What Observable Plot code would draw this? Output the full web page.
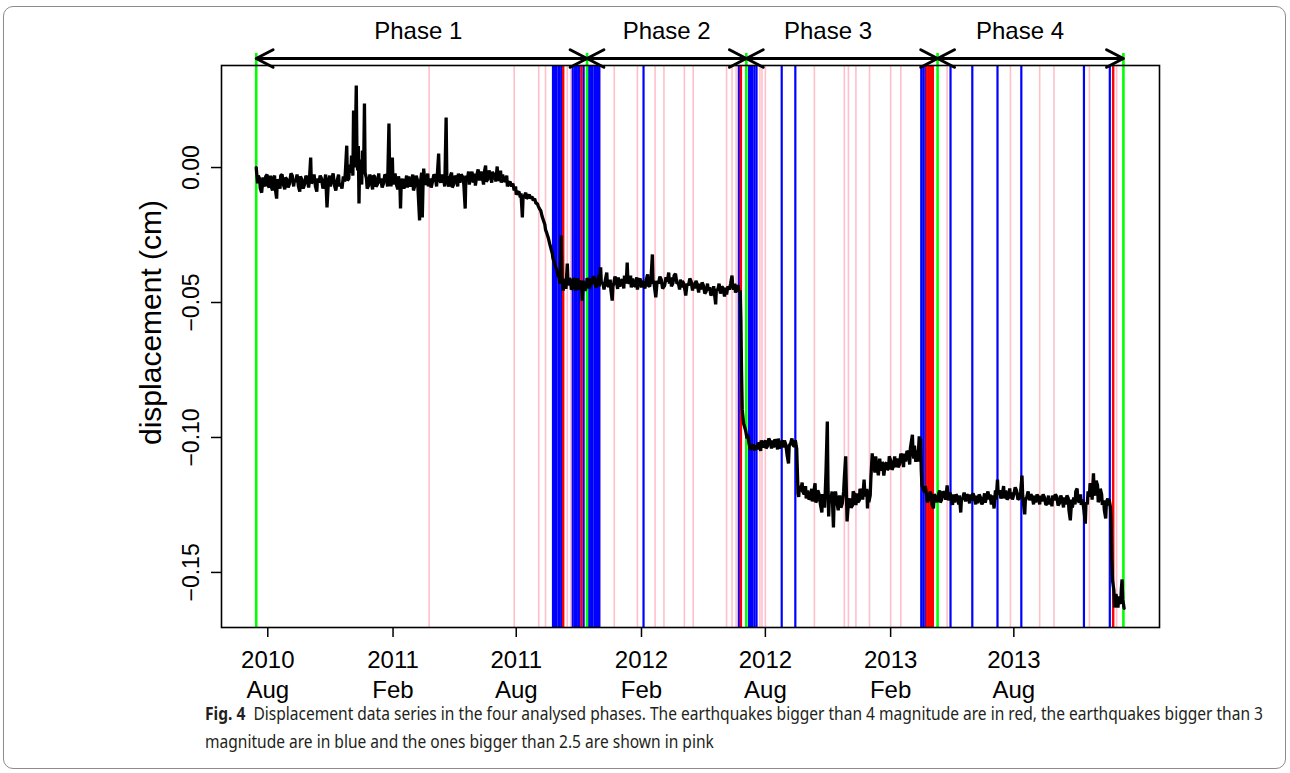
<!DOCTYPE html>
<html><head><meta charset="utf-8">
<script src="https://cdn.jsdelivr.net/npm/d3@7"></script>
<script src="https://cdn.jsdelivr.net/npm/@observablehq/plot@0.6"></script>
<style>
html,body{margin:0;padding:0;background:#fff}
body{width:1290px;height:773px;overflow:hidden;position:relative}
#box{position:absolute;left:3px;top:6px;width:1283px;height:763px;border:1.5px solid #8c8c8c;border-radius:10px;box-sizing:border-box}
#chart{position:absolute;left:0;top:0}
.cap{position:absolute;left:205px;font-family:"Noto Sans",sans-serif;font-size:17.5px;line-height:17px;color:#231f20;transform-origin:0 0;white-space:nowrap}
#cap1{top:705px}
#cap2{top:733px}
.cap b{font-weight:700}
</style></head><body>
<div id="box"></div>
<div id="chart"></div>
<div class="cap" id="cap1"><b>Fig. 4</b>&nbsp; Displacement data series in the four analysed phases. The earthquakes bigger than 4 magnitude are in red, the earthquakes bigger than 3</div>
<div class="cap" id="cap2">magnitude are in blue and the ones bigger than 2.5 are shown in pink</div>
<script>
// ---------------- data ----------------
// displacement series: [days since seriesStart, displacement in cm]
const seriesStart = "2010-07-15";
const displacementPhase1 = [[0,0],[2,-0.0059],[3,-0.003],[5,-0.0041],[6,-0.0078],[8,-0.0093],[10,-0.0037],[11,-0.0052],[13,-0.007],[14,-0.0033],[16,-0.0026],[17,-0.0063],[19,-0.0074],[20,-0.0048],[21,-0.003],[22,-0.007],[24,-0.0085],[25,-0.0041],[27,-0.003],[28,-0.0078],[30,-0.0115],[31,-0.0044],[33,-0.0056],[35,-0.0078],[36,-0.003],[38,-0.0026],[40,-0.0063],[42,-0.0081],[43,-0.0037],[45,-0.0044],[47,-0.0074],[49,-0.0059],[51,-0.0022],[53,-0.003],[55,-0.007],[56,-0.0048],[58,-0.0052],[60,-0.0026],[62,-0.007],[64,-0.0089],[65,-0.0033],[67,-0.0044],[69,-0.0078],[71,-0.0063],[73,-0.003],[75,-0.0041],[77,-0.0074],[78,-0.0052],[80,0.0037],[81,-0.0059],[83,-0.0048],[85,-0.0026],[87,-0.007],[89,-0.0089],[90,-0.0041],[92,-0.0056],[94,-0.003],[96,-0.0041],[98,-0.0078],[100,-0.0063],[102,-0.0026],[104,-0.0148],[106,-0.0052],[108,-0.003],[109,-0.007],[111,-0.0041],[113,-0.0022],[115,-0.0067],[117,-0.0085],[119,-0.0048],[121,-0.0026],[122,-0.007],[124,-0.0059],[126,-0.0078],[128,-0.0033],[130,-0.0052],[131,-0.0015],[133,0.0081],[134,-0.0048],[136,-0.0041],[137,0.0011],[139,-0.0019],[140,0.0044],[141,0.0026],[142,-0.003],[143,0.0211],[144,0],[145,0.0063],[146,0.015],[147,0.0304],[148,0.005],[149,-0.0011],[150,0.008],[151,-0.0133],[152,0.003],[153,-0.003],[155,-0.0063],[156,0.0063],[158,0.003],[159,0.0237],[160,-0.002],[162,-0.0041],[163,-0.0078],[165,-0.0067],[167,-0.0026],[169,-0.0052],[171,-0.0081],[172,-0.003],[174,-0.0033],[176,-0.007],[178,-0.0063],[180,-0.0022],[181,-0.0059],[183,-0.0041],[185,-0.0074],[187,-0.0059],[189,-0.0026],[191,-0.0033],[193,-0.007],[195,0.0163],[196,-0.003],[197,-0.0048],[198,-0.007],[200,0.0037],[201,-0.0063],[202,-0.0041],[204,-0.0022],[206,-0.0063],[208,-0.0081],[209,-0.0033],[211,-0.0056],[212,-0.0152],[213,-0.006],[215,-0.0041],[217,-0.0078],[219,-0.0059],[221,-0.003],[222,-0.0074],[224,-0.0033],[226,-0.007],[228,-0.0052],[230,-0.0026],[231,-0.0085],[233,-0.0067],[235,-0.003],[237,-0.0048],[238,-0.0096],[240,-0.0196],[241,-0.006],[243,-0.0019],[244,-0.0185],[245,-0.007],[246,-0.0004],[248,-0.0063],[250,-0.0056],[252,-0.0022],[253,-0.007],[255,-0.0041],[257,-0.0074],[259,-0.0052],[261,-0.0026],[263,-0.0033],[265,-0.007],[266,-0.003],[268,0.0052],[269,-0.0044],[271,-0.0056],[273,-0.0026],[275,-0.0041],[277,-0.007],[279,0.0185],[280,-0.003],[281,-0.0052],[283,-0.007],[285,-0.0033],[287,-0.0019],[288,-0.0074],[290,-0.0063],[292,-0.003],[294,-0.0041],[296,-0.007],[297,-0.0022],[299,-0.0056],[301,-0.0026],[303,-0.0033],[305,-0.0063],[307,-0.0152],[308,-0.003],[310,-0.0048],[312,-0.0015],[313,-0.0063],[315,-0.0037],[317,-0.0015],[319,-0.0056],[321,-0.0022],[322,-0.0067],[324,-0.003],[326,-0.0007],[328,-0.0048],[330,-0.0015],[332,-0.0033],[334,-0.0063],[335,-0.0019],[337,0.0007],[338,-0.0052],[340,-0.0044],[342,-0.0011],[344,-0.003],[346,-0.0056],[347,-0.0015],[349,-0.0044],[351,-0.0019],[352,-0.0052],[354,0.0004],[355,-0.0048],[357,-0.0041],[359,-0.0011],[360,-0.0056],[362,-0.0026],[364,-0.0052],[366,-0.0048],[368,-0.003],[369,-0.007],[371,-0.0059],[373,-0.0052],[375,-0.007],[377,-0.0059],[379,-0.0085],[381,-0.007],[382,-0.01],[384,-0.0093],[386,-0.0089],[388,-0.0111],[389,-0.0096],[391,-0.0185],[392,-0.011],[394,-0.0104],[396,-0.0093],[397,-0.0115],[399,-0.0111],[401,-0.01],[403,-0.0115],[405,-0.0107],[407,-0.0122],[409,-0.0115],[411,-0.0133],[413,-0.0133],[414,-0.0141],[416,-0.0152],[418,-0.016],[420,-0.0181],[422,-0.0196],[424,-0.0211],[425,-0.023],[427,-0.0244],[429,-0.026],[431,-0.0281],[433,-0.03],[435,-0.0319],[436,-0.0337],[438,-0.0352],[440,-0.037],[442,-0.0381],[443,-0.04],[445,-0.0407],[446,-0.043],[447,-0.0419],[448,-0.0252],[449,-0.04],[450,-0.0433],[451,-0.0456],[452,-0.042],[454,-0.0415],[455,-0.045],[457,-0.0356],[458,-0.042],[459,-0.0437],[460,-0.041],[462,-0.0422],[463,-0.0452],[465,-0.0444],[466,-0.0411],[468,-0.0415],[469,-0.0456],[471,-0.0433],[472,-0.041],[473,-0.0452],[475,-0.043],[476,-0.0419],[478,-0.044],[479,-0.0493],[480,-0.042],[481,-0.0426],[483,-0.0456],[485,-0.0444]];
const displacementPhase2 = [[486,-0.041],[488,-0.0419],[490,-0.0448],[491,-0.0411],[493,-0.0433],[495,-0.0404],[497,-0.0411],[499,-0.0444],[501,-0.0437],[503,-0.04],[504,-0.044],[506,-0.037],[507,-0.043],[509,-0.0426],[511,-0.0452],[513,-0.0415],[515,-0.0389],[516,-0.0437],[518,-0.0441],[520,-0.0415],[521,-0.0452],[523,-0.0493],[524,-0.044],[525,-0.0433],[527,-0.0404],[529,-0.0419],[531,-0.045],[532,-0.0407],[534,-0.0441],[536,-0.042],[538,-0.0415],[540,-0.0448],[541,-0.04],[543,-0.043],[544,-0.041],[545,-0.0352],[546,-0.042],[548,-0.043],[550,-0.04],[551,-0.0444],[553,-0.0411],[555,-0.044],[557,-0.0437],[559,-0.0407],[560,-0.0452],[562,-0.0422],[564,-0.0411],[566,-0.0444],[567,-0.042],[569,-0.043],[571,-0.0448],[573,-0.0415],[575,-0.0396],[576,-0.0437],[578,-0.0441],[580,-0.0411],[582,-0.0322],[583,-0.043],[584,-0.0419],[585,-0.044],[587,-0.0481],[589,-0.042],[591,-0.043],[593,-0.0404],[595,-0.0415],[597,-0.0448],[600,-0.0437],[602,-0.0407],[604,-0.0422],[606,-0.0389],[607,-0.043],[609,-0.0407],[610,-0.044],[612,-0.043],[614,-0.04],[616,-0.0393],[618,-0.043],[620,-0.0426],[622,-0.0452],[623,-0.0415],[625,-0.0444],[626,-0.042],[628,-0.043],[630,-0.0456],[631,-0.0474],[633,-0.043],[635,-0.0437],[637,-0.0411],[639,-0.0422],[641,-0.0456],[642,-0.0426],[644,-0.0448],[646,-0.042],[648,-0.0433],[650,-0.0463],[651,-0.043],[653,-0.0452],[655,-0.0426],[657,-0.0437],[659,-0.0467],[661,-0.0459],[663,-0.043],[664,-0.0456],[666,-0.0444],[668,-0.0474],[670,-0.0463],[672,-0.044],[675,-0.0507],[676,-0.045],[678,-0.0456],[680,-0.043],[682,-0.0467],[684,-0.0441],[686,-0.0448],[688,-0.0478],[689,-0.0445],[691,-0.047],[693,-0.044],[695,-0.0452],[697,-0.043],[699,-0.04],[700,-0.044],[701,-0.0452],[703,-0.043],[704,-0.0463],[706,-0.0445],[708,-0.0437],[709,-0.046],[711,-0.0456],[712,-0.0563],[713,-0.0756],[714,-0.0896],[716,-0.0948],[719,-0.0974]];
const displacementPhase3 = [[721,-0.1004],[722,-0.099],[724,-0.1022],[726,-0.1045],[728,-0.1037],[730,-0.1026],[732,-0.1048],[734,-0.103],[736,-0.1044],[737,-0.102],[739,-0.1026],[741,-0.105],[742,-0.1011],[744,-0.1037],[746,-0.102],[748,-0.1011],[749,-0.104],[751,-0.1033],[753,-0.1004],[755,-0.1015],[757,-0.1041],[758,-0.1011],[760,-0.1037],[762,-0.1007],[764,-0.1019],[766,-0.1044],[767,-0.1004],[769,-0.1041],[771,-0.1022],[773,-0.1011],[775,-0.1037],[776,-0.1011],[778,-0.1026],[780,-0.1067],[782,-0.1096],[783,-0.103],[785,-0.1022],[787,-0.1004],[789,-0.103],[791,-0.1033],[792,-0.101],[794,-0.1041],[796,-0.1207],[797,-0.122],[798,-0.1178],[800,-0.12],[802,-0.1167],[803,-0.12],[805,-0.1211],[807,-0.118],[808,-0.1226],[810,-0.1196],[812,-0.123],[814,-0.1222],[816,-0.119],[817,-0.1237],[819,-0.1204],[821,-0.117],[822,-0.1241],[824,-0.123],[825,-0.1196],[827,-0.1211],[829,-0.125],[831,-0.1278],[832,-0.121],[833,-0.1222],[835,-0.126],[836,-0.12],[837,-0.113],[839,-0.0941],[840,-0.118],[841,-0.1293],[842,-0.122],[844,-0.1233],[846,-0.12],[848,-0.1333],[849,-0.123],[850,-0.1252],[851,-0.12],[853,-0.1237],[855,-0.127],[857,-0.1215],[859,-0.126],[861,-0.1244],[863,-0.12],[864,-0.115],[866,-0.107],[867,-0.12],[868,-0.1311],[870,-0.124],[872,-0.1226],[874,-0.126],[876,-0.1252],[877,-0.12],[879,-0.1211],[881,-0.125],[883,-0.1207],[884,-0.124],[886,-0.1233],[887,-0.119],[889,-0.1204],[891,-0.123],[893,-0.1156],[894,-0.12],[895,-0.1219],[897,-0.119],[898,-0.1263],[899,-0.1196],[900,-0.124],[902,-0.1215],[903,-0.115],[905,-0.1059],[906,-0.112],[907,-0.1093],[909,-0.113],[910,-0.107],[912,-0.1107],[914,-0.114],[916,-0.1078],[917,-0.111],[919,-0.1122],[920,-0.109],[922,-0.1141],[924,-0.11],[926,-0.1093],[927,-0.112],[929,-0.1115],[930,-0.107],[932,-0.1085],[934,-0.112],[936,-0.1107],[938,-0.107],[939,-0.111],[941,-0.1078],[943,-0.111],[945,-0.11],[947,-0.106],[949,-0.107],[951,-0.111],[952,-0.106],[954,-0.1089],[956,-0.105],[958,-0.1056],[960,-0.11],[961,-0.104],[964,-0.099],[965,-0.106],[966,-0.1078],[967,-0.103],[968,-0.1063],[969,-0.109],[971,-0.1048],[972,-0.109],[974,-0.0996],[975,-0.106],[976,-0.1004],[977,-0.112],[978,-0.1178],[980,-0.119],[982,-0.1204],[983,-0.118],[985,-0.1219],[986,-0.124],[988,-0.123],[990,-0.12],[992,-0.1215],[993,-0.125],[995,-0.1263],[996,-0.121],[998,-0.1222],[1000,-0.124]];
const displacementPhase4 = [[1002,-0.1215],[1004,-0.1196],[1005,-0.1241],[1007,-0.123],[1009,-0.12],[1011,-0.1207],[1013,-0.123],[1015,-0.1178],[1017,-0.1233],[1019,-0.1204],[1021,-0.1222],[1023,-0.125],[1024,-0.1211],[1026,-0.1241],[1028,-0.1211],[1030,-0.1219],[1032,-0.1248],[1033,-0.1215],[1035,-0.1278],[1036,-0.123],[1038,-0.1226],[1040,-0.1204],[1042,-0.1237],[1044,-0.1211],[1046,-0.1219],[1048,-0.1244],[1049,-0.1211],[1051,-0.1233],[1053,-0.1207],[1055,-0.1222],[1057,-0.1248],[1058,-0.1215],[1060,-0.1244],[1062,-0.1211],[1064,-0.1222],[1066,-0.1248],[1068,-0.1237],[1070,-0.1207],[1071,-0.1241],[1073,-0.1219],[1075,-0.12],[1077,-0.123],[1078,-0.1211],[1080,-0.1248],[1082,-0.1215],[1084,-0.1263],[1086,-0.1196],[1087,-0.123],[1089,-0.1156],[1090,-0.121],[1092,-0.1196],[1094,-0.1226],[1096,-0.1211],[1098,-0.118],[1099,-0.1226],[1101,-0.1196],[1103,-0.123],[1105,-0.1222],[1107,-0.1189],[1108,-0.1226],[1110,-0.1204],[1111,-0.123],[1113,-0.1211],[1115,-0.1185],[1117,-0.1196],[1119,-0.123],[1121,-0.1226],[1123,-0.12],[1125,-0.1141],[1126,-0.1215],[1129,-0.1285],[1130,-0.123],[1132,-0.1222],[1134,-0.12],[1136,-0.1233],[1138,-0.1211],[1140,-0.1219],[1142,-0.1248],[1143,-0.1215],[1145,-0.1241],[1147,-0.1211],[1149,-0.1222],[1151,-0.1248],[1152,-0.1215],[1154,-0.1237],[1156,-0.1211],[1158,-0.1222],[1160,-0.125],[1162,-0.1244],[1164,-0.1215],[1165,-0.1248],[1167,-0.1226],[1169,-0.1255],[1170,-0.1215],[1172,-0.1233],[1174,-0.1211],[1176,-0.1219],[1178,-0.1252],[1180,-0.1244],[1182,-0.1215],[1184,-0.123],[1186,-0.1259],[1187,-0.1222],[1189,-0.1248],[1191,-0.1215],[1193,-0.1226],[1194,-0.127],[1196,-0.1307],[1198,-0.123],[1199,-0.126],[1201,-0.1222],[1203,-0.1248],[1204,-0.12],[1206,-0.1189],[1207,-0.123],[1209,-0.1241],[1211,-0.1211],[1212,-0.125],[1214,-0.123],[1216,-0.127],[1218,-0.1319],[1219,-0.124],[1221,-0.1248],[1222,-0.12],[1224,-0.1219],[1225,-0.117],[1227,-0.1181],[1228,-0.123],[1230,-0.1133],[1231,-0.12],[1233,-0.1215],[1234,-0.116],[1236,-0.1178],[1237,-0.124],[1239,-0.1226],[1240,-0.119],[1242,-0.1211],[1243,-0.125],[1245,-0.1233],[1246,-0.127],[1248,-0.13],[1249,-0.124],[1251,-0.1226],[1252,-0.1252],[1253,-0.123],[1255,-0.1259],[1256,-0.1315],[1257,-0.1456],[1258,-0.153],[1260,-0.1567],[1261,-0.163],[1262,-0.1604],[1263,-0.158],[1265,-0.1607],[1266,-0.163],[1267,-0.1589],[1268,-0.161],[1270,-0.1615],[1271,-0.156],[1272,-0.1526],[1273,-0.16],[1275,-0.1633]];

// earthquakes: magnitude > 4 (red), > 3 (blue), > 2.5 (pink)
const quakesM4 = ["2011-10-09","2011-11-05","2012-06-26","2013-03-26","2013-03-29","2013-04-01","2013-04-04","2013-12-25"];
const quakesM3 = ["2011-09-24","2011-09-27","2011-09-29","2011-10-02","2011-10-04","2011-10-07","2011-10-23","2011-10-26","2011-10-28","2011-10-31","2011-11-02","2011-11-08","2011-11-16","2011-11-19","2011-11-21","2011-11-24","2011-11-26","2011-11-29","2011-12-01","2012-02-04","2012-06-23","2012-07-08","2012-07-11","2012-07-13","2012-07-16","2012-07-19","2012-08-25","2012-09-14","2013-03-18","2013-03-21","2013-03-24","2013-04-30","2013-06-01","2013-07-08","2013-08-12","2013-11-12","2013-12-20"];
const quakesM25 = ["2011-03-26","2011-07-29","2011-09-03","2011-09-13","2011-10-15","2011-10-20","2011-12-02","2011-12-23","2012-01-26","2012-02-21","2012-03-05","2012-04-04","2012-04-17","2012-06-05","2012-06-13","2012-06-19","2012-07-24","2012-07-27","2012-08-01","2012-10-12","2012-11-25","2012-12-01","2012-12-12","2013-01-01","2013-02-01","2013-02-16","2013-04-25","2013-07-27","2013-09-08","2013-09-29","2013-11-20","2013-12-30"];

// phases
const phaseBounds = ["2010-07-15","2011-11-13","2012-07-04","2013-04-11","2014-01-09"];
const phaseLabels = ["Phase 1","Phase 2","Phase 3","Phase 4"];
const phaseLabelDates = ["2011-03-10","2012-03-09","2012-11-01","2013-08-10"];

// axes
const xTicks = ["2010-08-01","2011-02-01","2011-08-01","2012-02-01","2012-08-01","2013-02-01","2013-08-01"];
const xTickYears = ["2010","2011","2011","2012","2012","2013","2013"];
const xTickMonths = ["Aug","Feb","Aug","Feb","Aug","Feb","Aug"];
const yTicks = [0, -0.05, -0.10, -0.15];
const yTickLabels = ["0.00","\u22120.05","\u22120.10","\u22120.15"];
const yLabel = "displacement (cm)";

// ---------------- build ----------------
const parse = d3.utcParse("%Y-%m-%d");
const t0 = parse(seriesStart);
const series = [...displacementPhase1, ...displacementPhase2, ...displacementPhase3, ...displacementPhase4]
  .map(([d, v]) => ({date: d3.utcDay.offset(t0, d), value: v}));
const bounds = phaseBounds.map(parse);
const phases = phaseLabels.map((label, i) => ({
  label, start: bounds[i], end: bounds[i + 1],
  mid: new Date((+bounds[i] + +bounds[i + 1]) / 2),
  labelAt: parse(phaseLabelDates[i])
}));
const xTickDates = xTicks.map(parse);
const yMin = -0.1704, yMax = 0.0378;
const arrowY = 0.0404, greenTop = 0.0422;
const font = "'Liberation Sans', Arial, Helvetica, sans-serif";

const chart = Plot.plot({
  width: 1290, height: 700,
  marginLeft: 221, marginRight: 131, marginTop: 65, marginBottom: 73,
  style: {fontFamily: font, color: "#000", background: "transparent", overflow: "visible"},
  x: {type: "utc", domain: [parse("2010-05-25"), parse("2014-03-03")], label: null},
  y: {domain: [yMin, yMax], label: null},
  marks: [
    Plot.ruleX(quakesM25.map(parse), {stroke: "#FFC0CB", strokeWidth: 1.6}),
    Plot.ruleX(quakesM3.map(parse), {stroke: "#0000FF", strokeWidth: 2.2}),
    Plot.ruleX(quakesM4.map(parse), {stroke: "#FF0000", strokeWidth: 2.4}),
    Plot.ruleX(bounds, {y1: greenTop, y2: yMin, stroke: "#00FF00", strokeWidth: 2.6}),
    Plot.line(series, {x: "date", y: "value", stroke: "#000", strokeWidth: 3.3, strokeLinejoin: "miter"}),
    Plot.frame({stroke: "#000", strokeWidth: 1.6}),
    Plot.arrow(phases, {x1: "mid", x2: "start", y1: arrowY, y2: arrowY, stroke: "#000", strokeWidth: 3, headLength: 9.5, headAngle: 55}),
    Plot.arrow(phases, {x1: "mid", x2: "end", y1: arrowY, y2: arrowY, stroke: "#000", strokeWidth: 3, headLength: 9.5, headAngle: 55}),
    Plot.text(phases, {x: "labelAt", text: "label", frameAnchor: "top", lineAnchor: "middle", dy: -34, fontSize: 24, fill: "#000"}),
    Plot.axisX({ticks: xTickDates, tickSize: 10, tickPadding: 13, strokeWidth: 1.5, fontSize: 24, lineAnchor: "top",
      tickFormat: (d) => xTickYears[xTickDates.findIndex(t => +t === +d)]}),
    Plot.axisX({ticks: xTickDates, tickSize: 0, tickPadding: 53, fontSize: 24, lineAnchor: "top",
      tickFormat: (d) => xTickMonths[xTickDates.findIndex(t => +t === +d)]}),
    Plot.axisY({ticks: yTicks, tickSize: 10, strokeWidth: 1.5, tickFormat: () => ""}),
    Plot.text(yTicks, {y: d => d, text: (d, i) => yTickLabels[i], frameAnchor: "left", textAnchor: "middle", lineAnchor: "middle", dx: -30, rotate: -90, fontSize: 23, fill: "#000"}),
    Plot.text([yLabel], {y: -0.0574, text: d => d, frameAnchor: "left", textAnchor: "middle", lineAnchor: "middle", dx: -70, rotate: -90, fontSize: 30, fill: "#000"})
  ]
});
document.getElementById("chart").appendChild(chart);

// fit caption lines to the reference width (same horizontal scale for both lines)
const c1 = document.getElementById("cap1"), c2 = document.getElementById("cap2");
const k = 1058 / c1.getBoundingClientRect().width;
c1.style.transform = `scaleX(${k})`;
c2.style.transform = `scaleX(${k})`;
</script>
</body></html>
